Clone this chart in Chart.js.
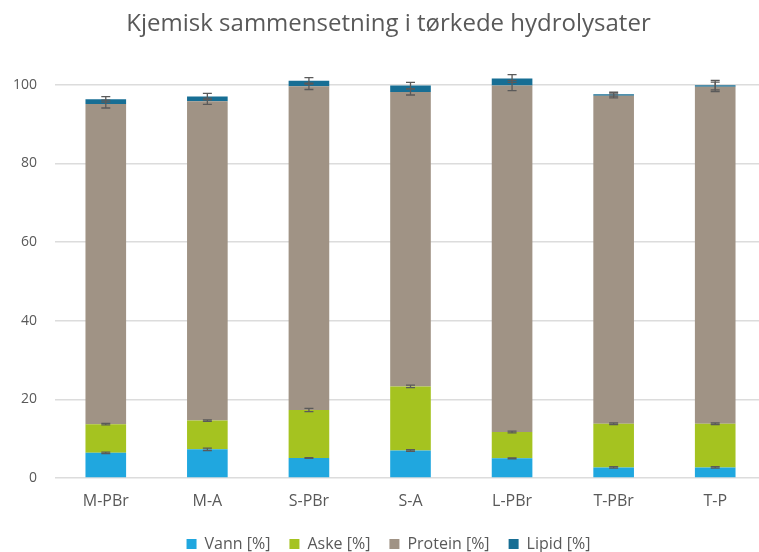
<!DOCTYPE html>
<html lang="no">
<head>
  <meta charset="UTF-8">
  <title>Kjemisk sammensetning i tørkede hydrolysater</title>
  <script src="https://cdn.jsdelivr.net/npm/chart.js"></script>
  <style>
    html, body {
      margin: 0;
      padding: 0;
      background: #ffffff;
      overflow: hidden;
    }
    .wrap {
      width: 772px;
      height: 562px;
    }
  </style>
</head>
<body>
  <div class="wrap">
    <canvas id="chart" width="772" height="562"></canvas>
  </div>
  <script>
    const categories = ['M-PBr', 'M-A', 'S-PBr', 'S-A', 'L-PBr', 'T-PBr', 'T-P'];

    // stacked parts in %
    const vann = [6.4, 7.3, 5.1, 7.0, 5.0, 2.7, 2.7];
    const aske = [7.3, 7.3, 12.2, 16.3, 6.7, 11.1, 11.1];
    const protein = [81.4, 81.2, 82.3, 74.9, 88.1, 83.4, 85.7];
    const lipid = [1.2, 1.2, 1.4, 1.6, 1.8, 0.4, 0.4];

    // +/- error at the top of each segment
    const vannErr = [0.2, 0.3, 0.1, 0.2, 0.1, 0.2, 0.2];
    const askeErr = [0.2, 0.2, 0.4, 0.3, 0.2, 0.2, 0.2];
    const proteinErr = [1.0, 0.8, 0.8, 0.8, 1.3, 0.5, 1.2];
    const lipidErr = [0.7, 0.8, 0.8, 0.8, 1.0, 0.5, 1.2];

    const yTicks = [0, 20, 40, 60, 80, 100];

    const textColor = '#595959';

    // draws the error bars on the cumulative top of each stacked segment
    const errorBars = {
      id: 'errorBars',
      afterDatasetsDraw(chart) {
        const ctx = chart.ctx;
        const y = chart.scales.y;
        const totals = categories.map(() => 0);
        ctx.save();
        ctx.strokeStyle = '#5a5a5a';
        ctx.lineWidth = 1.3;
        chart.data.datasets.forEach((ds, i) => {
          const meta = chart.getDatasetMeta(i);
          ds.data.forEach((v, j) => {
            totals[j] += v;
            const err = ds.errors[j];
            const x = meta.data[j].x;
            const top = y.getPixelForValue(totals[j] + err);
            const bot = y.getPixelForValue(totals[j] - err);
            ctx.beginPath();
            ctx.moveTo(x, top);
            ctx.lineTo(x, bot);
            ctx.moveTo(x - 4.5, top);
            ctx.lineTo(x + 4.5, top);
            ctx.moveTo(x - 4.5, bot);
            ctx.lineTo(x + 4.5, bot);
            ctx.stroke();
          });
        });
        ctx.restore();
      }
    };

    new Chart(document.getElementById('chart'), {
      type: 'bar',
      data: {
        labels: categories,
        datasets: [
          { label: 'Vann [%]', data: vann, errors: vannErr, backgroundColor: '#20a7df' },
          { label: 'Aske [%]', data: aske, errors: askeErr, backgroundColor: '#a5c320' },
          { label: 'Protein [%]', data: protein, errors: proteinErr, backgroundColor: '#a09385' },
          { label: 'Lipid [%]', data: lipid, errors: lipidErr, backgroundColor: '#176e94' }
        ].map(d => Object.assign(d, {
          categoryPercentage: 0.4,
          barPercentage: 1,
          borderWidth: 0,
          clip: false
        }))
      },
      plugins: [errorBars],
      options: {
        responsive: false,
        animation: false,
        layout: { padding: { top: 10, left: 11, right: 6, bottom: 0 } },
        scales: {
          x: {
            stacked: true,
            afterFit: axis => { axis.height = 39; },
            grid: { display: false, drawTicks: false },
            border: { display: false },
            ticks: { color: textColor, font: { family: 'Open Sans', size: 16, lineHeight: 1.4 }, padding: 12 }
          },
          y: {
            stacked: true,
            min: 0,
            max: 100,
            afterBuildTicks: axis => { axis.ticks = yTicks.map(v => ({ value: v })); },
            afterFit: axis => { axis.width = 44; },
            grid: { color: '#dcdcdc', lineWidth: 1.5, drawTicks: false },
            border: { display: false },
            ticks: { color: textColor, font: { family: 'Open Sans', size: 14 }, padding: 18 }
          }
        },
        plugins: {
          title: {
            display: true,
            text: 'Kjemisk sammensetning i tørkede hydrolysater',
            color: textColor,
            font: { family: 'Open Sans', size: 24, weight: 'normal' },
            padding: { top: 0, bottom: 46 }
          },
          legend: {
            position: 'bottom',
            labels: {
              color: textColor,
              font: { family: 'Open Sans', size: 16 },
              boxWidth: 10,
              boxHeight: 10,
              padding: 19
            }
          },
          tooltip: { enabled: false }
        }
      }
    });
  </script>
</body>
</html>
